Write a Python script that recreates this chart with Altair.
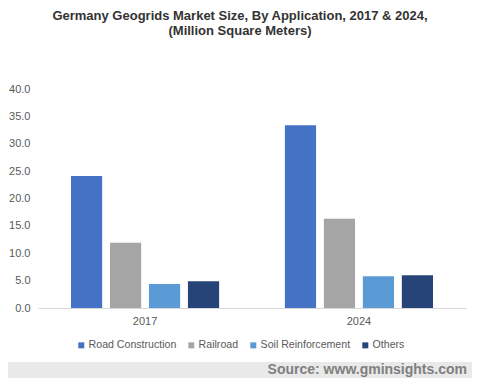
import altair as alt
import pandas as pd

years = ["2017", "2024"]
apps = ["Road Construction", "Railroad", "Soil Reinforcement", "Others"]
colors = ["#4472c4", "#a5a5a5", "#5b9bd5", "#264478"]
v2017 = [24.1, 11.9, 4.4, 4.9]
v2024 = [33.4, 16.3, 5.8, 6.0]
y_ticks = [0, 5, 10, 15, 20, 25, 30, 35, 40]

rows = []
for yr, vals in zip(years, [v2017, v2024]):
    for a, v in zip(apps, vals):
        rows.append({"year": yr, "application": a, "value": v})
df = pd.DataFrame(rows)

FONT = "Liberation Sans"
GREY = "#595959"

bars = alt.Chart(df).mark_bar().encode(
    x=alt.X("year:N", sort=years,
            scale=alt.Scale(paddingInner=0.271, paddingOuter=0.136),
            axis=alt.Axis(title=None, labelAngle=0, ticks=False, domainColor="#d9d9d9",
                          labelFont=FONT, labelFontSize=11, labelColor=GREY, labelPadding=7)),
    xOffset=alt.XOffset("application:N", sort=apps,
                        scale=alt.Scale(paddingInner=0.2, paddingOuter=0.1)),
    y=alt.Y("value:Q", scale=alt.Scale(domain=[0, 40]),
            axis=alt.Axis(title=None, values=y_ticks, format=".1f", grid=False, domain=False,
                          ticks=False, labelFont=FONT, labelFontSize=11, labelColor=GREY,
                          labelPadding=8)),
    color=alt.Color("application:N", sort=apps,
                    scale=alt.Scale(domain=apps, range=colors),
                    legend=alt.Legend(title=None, orient="none", direction="horizontal",
                                      legendX=38, legendY=251, symbolType="square",
                                      symbolSize=36, symbolStrokeWidth=0, labelFont=FONT,
                                      labelFontSize=10.6, labelColor=GREY, labelOffset=2,
                                      columnPadding=9, padding=0)),
)

band = alt.Chart(pd.DataFrame({"a": [0]})).mark_rect(color="#e9e9e9").encode(
    x=alt.value(-30), x2=alt.value(434), y=alt.value(273), y2=alt.value(300)
)

source = alt.Chart(pd.DataFrame({"t": ["Source: www.gminsights.com"]})).mark_text(
    align="right", baseline="middle", font=FONT, fontSize=14, fontWeight="bold",
    color="#7f7f7f"
).encode(text="t:N", x=alt.value(429), y=alt.value(281))

chart = alt.layer(band, source, bars).properties(
    width=428, height=219,
    autosize="none",
    padding={"left": 30, "top": 81, "right": 6, "bottom": 70},
    title=alt.TitleParams(
        ["Germany Geogrids Market Size, By Application, 2017 & 2024,", "(Million Square Meters)"],
        anchor="middle", frame="group", dx=-12, offset=45, font=FONT, fontSize=13,
        fontWeight="bold", color="#333333", lineHeight=15),
).configure_view(stroke=None)

chart.save("out.html", embed_options={"renderer": "svg", "actions": False})
